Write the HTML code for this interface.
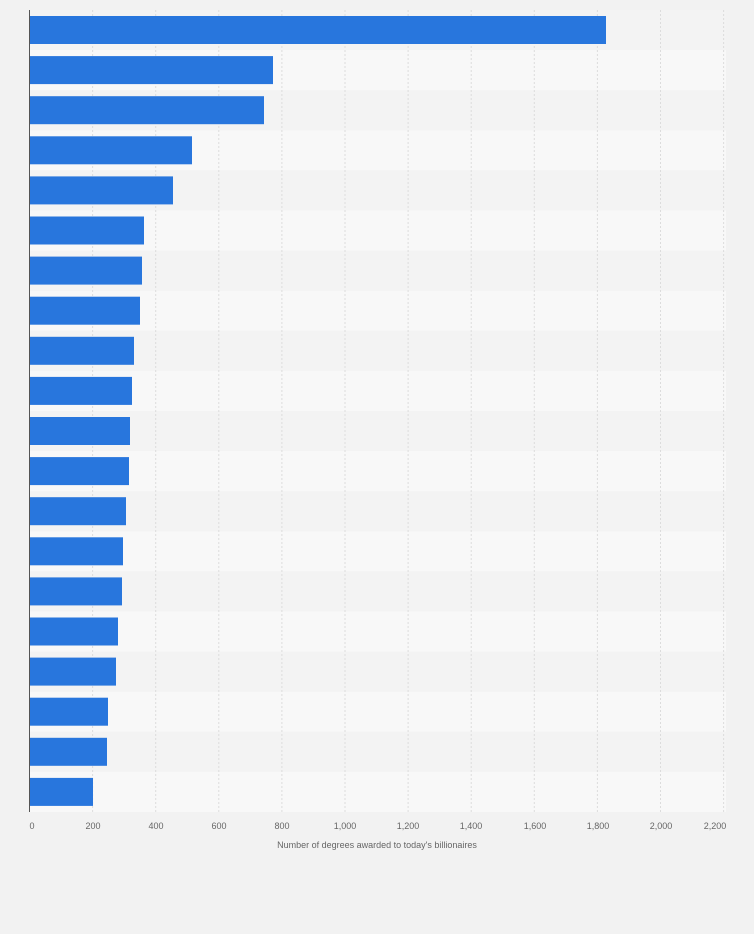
<!DOCTYPE html>
<html><head><style>
body{margin:0;width:754px;height:929px;background:#f2f2f2;font-family:"Liberation Sans",sans-serif;overflow:hidden}
</style></head><body>
<svg width="754" height="929" xmlns="http://www.w3.org/2000/svg">
<g>
<rect x="30" y="10" width="696" height="40.1" fill="#f3f3f3"/>
<rect x="30" y="50.1" width="696" height="40.1" fill="#f8f8f8"/>
<rect x="30" y="90.2" width="696" height="40.1" fill="#f3f3f3"/>
<rect x="30" y="130.3" width="696" height="40.1" fill="#f8f8f8"/>
<rect x="30" y="170.4" width="696" height="40.1" fill="#f3f3f3"/>
<rect x="30" y="210.5" width="696" height="40.1" fill="#f8f8f8"/>
<rect x="30" y="250.6" width="696" height="40.1" fill="#f3f3f3"/>
<rect x="30" y="290.7" width="696" height="40.1" fill="#f8f8f8"/>
<rect x="30" y="330.8" width="696" height="40.1" fill="#f3f3f3"/>
<rect x="30" y="370.9" width="696" height="40.1" fill="#f8f8f8"/>
<rect x="30" y="411" width="696" height="40.1" fill="#f3f3f3"/>
<rect x="30" y="451.1" width="696" height="40.1" fill="#f8f8f8"/>
<rect x="30" y="491.2" width="696" height="40.1" fill="#f3f3f3"/>
<rect x="30" y="531.3" width="696" height="40.1" fill="#f8f8f8"/>
<rect x="30" y="571.4" width="696" height="40.1" fill="#f3f3f3"/>
<rect x="30" y="611.5" width="696" height="40.1" fill="#f8f8f8"/>
<rect x="30" y="651.6" width="696" height="40.1" fill="#f3f3f3"/>
<rect x="30" y="691.7" width="696" height="40.1" fill="#f8f8f8"/>
<rect x="30" y="731.8" width="696" height="40.1" fill="#f3f3f3"/>
<rect x="30" y="771.9" width="696" height="40.1" fill="#f8f8f8"/>
</g>
<g stroke="#dcdcdc" stroke-dasharray="2,2">
<line x1="92.6" y1="10" x2="92.6" y2="812"/>
<line x1="155.7" y1="10" x2="155.7" y2="812"/>
<line x1="218.8" y1="10" x2="218.8" y2="812"/>
<line x1="281.9" y1="10" x2="281.9" y2="812"/>
<line x1="345" y1="10" x2="345" y2="812"/>
<line x1="408.1" y1="10" x2="408.1" y2="812"/>
<line x1="471.2" y1="10" x2="471.2" y2="812"/>
<line x1="534.3" y1="10" x2="534.3" y2="812"/>
<line x1="597.4" y1="10" x2="597.4" y2="812"/>
<line x1="660.5" y1="10" x2="660.5" y2="812"/>
<line x1="723.6" y1="10" x2="723.6" y2="812"/>
</g>
<g fill="#2876dd">
<rect x="30" y="16" width="576" height="28"/>
<rect x="30" y="56.1" width="243" height="28"/>
<rect x="30" y="96.2" width="234" height="28"/>
<rect x="30" y="136.3" width="162" height="28"/>
<rect x="30" y="176.4" width="143" height="28"/>
<rect x="30" y="216.5" width="114" height="28"/>
<rect x="30" y="256.6" width="112" height="28"/>
<rect x="30" y="296.7" width="110" height="28"/>
<rect x="30" y="336.8" width="104" height="28"/>
<rect x="30" y="376.9" width="102" height="28"/>
<rect x="30" y="417" width="100" height="28"/>
<rect x="30" y="457.1" width="99" height="28"/>
<rect x="30" y="497.2" width="96" height="28"/>
<rect x="30" y="537.3" width="93" height="28"/>
<rect x="30" y="577.4" width="92" height="28"/>
<rect x="30" y="617.5" width="88" height="28"/>
<rect x="30" y="657.6" width="86" height="28"/>
<rect x="30" y="697.7" width="78" height="28"/>
<rect x="30" y="737.8" width="77" height="28"/>
<rect x="30" y="777.9" width="63" height="28"/>
</g>
<line x1="29.5" y1="10" x2="29.5" y2="812" stroke="#555" stroke-width="1"/>
<g font-size="9" fill="#666" text-anchor="middle">
<text x="32" y="829">0</text><text x="93" y="829">200</text><text x="156" y="829">400</text><text x="219" y="829">600</text><text x="282" y="829">800</text><text x="345" y="829">1,000</text><text x="408" y="829">1,200</text><text x="471" y="829">1,400</text><text x="535" y="829">1,600</text><text x="598" y="829">1,800</text><text x="661" y="829">2,000</text><text x="715" y="829">2,200</text>
<text x="377" y="848">Number of degrees awarded to today's billionaires</text>
</g>
</svg>
</body></html>
